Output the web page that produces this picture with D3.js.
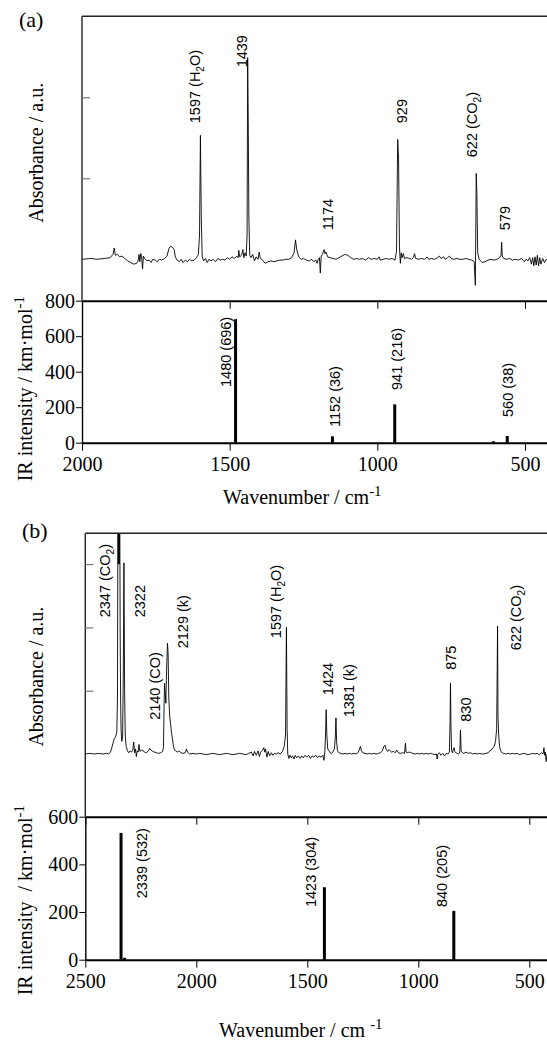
<!DOCTYPE html>
<html>
<head>
<meta charset="utf-8">
<style>
  body { margin: 0; padding: 0; background: #fff; }
  svg { display: block; background: #fff; }
</style>
<script src="https://cdnjs.cloudflare.com/ajax/libs/d3/7.8.5/d3.min.js"></script>
</head>
<body>
<svg width="547" height="1042"></svg>
<script>
// ---- panel (a) data ----
// measured spectrum: [wavenumber, absorbance (a.u.)]
const specA = [
  [2000,0.00],[1970,0.01],[1950,0.00],[1925,0.01],[1905,0.02],[1895,0.06],[1891,0.14],[1887,0.05],
  [1880,0.06],[1872,0.03],[1865,0.04],[1855,0.01],[1845,-0.02],[1835,-0.04],[1825,-0.06],[1815,-0.05],
  [1810,-0.02],[1807,0.06],[1804,-0.03],[1801,0.07],[1798,0.03],[1795,-0.12],[1792,0.04],[1788,0.01],
  [1780,-0.02],[1772,-0.01],[1766,-0.04],[1760,0.00],[1752,-0.01],[1745,-0.03],[1738,0.00],[1730,-0.01],
  [1720,0.01],[1712,0.04],[1706,0.13],[1700,0.16],[1694,0.15],[1688,0.12],[1684,0.03],[1678,-0.01],
  [1670,-0.03],[1664,0.00],[1658,-0.04],[1650,-0.01],[1643,-0.03],[1636,0.00],[1628,-0.02],[1620,-0.01],
  [1612,0.02],[1606,0.06],[1602,0.30],[1599,1.53],[1596,0.50],[1593,0.03],[1588,-0.02],[1582,0.01],
  [1576,-0.04],[1570,0.00],[1563,-0.02],[1556,0.00],[1548,-0.03],[1540,0.01],[1532,-0.01],[1524,0.00],
  [1516,-0.01],[1508,0.02],[1500,0.00],[1492,0.03],[1484,0.01],[1476,0.04],[1471,0.02],[1469,0.11],
  [1466,0.03],[1460,0.05],[1455,0.12],[1452,0.02],[1448,0.08],[1444,0.04],[1441,0.30],[1439,2.49],
  [1437,1.70],[1435,0.52],[1432,0.05],[1428,0.02],[1422,0.06],[1416,-0.02],[1410,0.03],[1404,0.00],
  [1400,0.09],[1396,0.01],[1388,-0.01],[1380,-0.05],[1370,-0.03],[1360,-0.02],[1350,-0.03],[1340,-0.02],
  [1330,-0.01],[1320,-0.01],[1310,0.00],[1300,0.00],[1290,0.02],[1282,0.08],[1277,0.24],[1273,0.12],
  [1266,0.03],[1258,0.00],[1250,0.01],[1240,-0.01],[1230,-0.02],[1222,0.00],[1215,-0.03],[1208,-0.01],
  [1204,-0.05],[1200,0.00],[1196,0.02],[1193,-0.17],[1190,0.04],[1186,0.06],[1180,0.12],[1177,0.07],
  [1174,0.09],[1168,0.03],[1160,0.02],[1150,0.01],[1140,0.00],[1130,0.02],[1120,0.04],[1110,0.06],
  [1100,0.05],[1090,0.02],[1080,0.00],[1070,0.01],[1060,0.00],[1050,0.01],[1040,-0.01],[1030,0.02],
  [1020,0.00],[1010,0.01],[1000,0.00],[994,0.03],[990,-0.01],[980,0.00],[970,0.01],[960,0.00],
  [950,0.01],[940,-0.01],[935,0.10],[931,1.48],[928,1.25],[925,0.15],[922,-0.05],[919,0.08],
  [916,0.02],[912,0.07],[908,0.01],[900,0.02],[892,0.01],[884,0.00],[878,0.02],[874,0.07],
  [870,0.01],[860,0.00],[850,0.01],[840,0.00],[832,0.03],[826,0.00],[816,0.01],[806,0.00],
  [796,0.02],[790,0.04],[784,0.01],[776,0.03],[770,0.00],[762,0.02],[756,0.04],[750,0.01],
  [740,0.00],[730,0.01],[720,0.00],[710,0.00],[700,0.01],[690,0.00],[680,-0.01],[672,-0.03],
  [668,-0.32],[665,1.06],[663,0.83],[660,0.08],[655,0.00],[645,-0.04],[635,-0.03],[625,-0.01],
  [615,0.00],[605,-0.01],[595,0.00],[586,0.02],[581,0.05],[579,0.21],[577,0.04],[572,0.01],
  [562,0.00],[552,0.01],[542,-0.01],[532,0.00],[522,-0.01],[512,0.01],[502,-0.03],[496,0.00],
  [490,-0.02],[484,0.02],[478,-0.06],[474,0.02],[470,-0.08],[466,0.03],[462,-0.07],[458,0.05],
  [454,-0.08],[450,0.02],[446,-0.06],[440,0.01],[434,-0.04],[428,0.00],[422,-0.02]
];
// calculated IR bands: [wavenumber, intensity km/mol]
const sticksA = [[1480,696],[1152,36],[941,216],[607,8],[560,38]];
// peak labels: [text, wavenumber, level]  ("_" marks a subscript digit)
const peakLabelsA = [
  ['1597 (H_2O)',1617,1.68],['1439',1458,2.37],['1174',1167,0.36],
  ['929',916,1.68],['622 (CO_2)',679,1.26],['579',568,0.36]
];
const stickLabelsA = [
  ['1480 (696)',1514,314],['1152 (36)',1143,88],['941 (216)',933,297],['560 (38)',557,145]
];
const xTicksA = [2000,1500,1000,500];
const irTicksA = [0,200,400,600,800];
const absTicksA = [1,2];

// ---- panel (b) data ----
const specB = [
  [2500,0.00],[2480,0.01],[2460,0.00],[2440,0.01],[2420,0.00],[2405,0.01],[2395,0.00],[2388,0.02],
  [2382,0.08],[2376,0.16],[2370,0.24],[2364,0.27],[2358,0.35],[2355,0.90],[2353,4.20],[2351,3.00],
  [2349,4.20],[2347,3.00],[2345,4.20],[2343,2.00],[2341,0.90],[2339,0.40],[2336,0.20],[2332,0.25],
  [2329,1.20],[2326,3.02],[2323,1.00],[2320,0.30],[2316,0.12],[2310,0.05],[2304,0.02],[2298,0.05],
  [2292,0.03],[2286,0.06],[2282,0.19],[2278,0.02],[2274,0.08],[2270,-0.04],[2266,0.05],[2262,0.03],
  [2258,0.15],[2254,0.04],[2248,0.06],[2240,0.05],[2232,0.03],[2224,0.02],[2216,0.05],[2210,0.09],
  [2204,0.06],[2196,0.04],[2188,0.03],[2180,0.02],[2170,0.01],[2160,0.02],[2152,0.04],[2148,0.10],
  [2145,0.80],[2143,1.12],[2140,0.95],[2137,0.80],[2134,1.30],[2130,1.75],[2127,1.60],[2124,0.90],
  [2120,0.60],[2116,0.48],[2112,0.35],[2108,0.25],[2104,0.15],[2100,0.08],[2094,0.05],[2086,0.03],
  [2078,0.05],[2070,0.02],[2060,0.01],[2050,0.02],[2044,0.08],[2040,0.03],[2030,0.00],[2015,0.01],
  [2000,0.00],[1985,0.01],[1970,0.00],[1955,-0.01],[1940,0.00],[1925,0.01],[1910,0.00],[1895,-0.01],
  [1880,0.00],[1865,0.01],[1850,0.00],[1835,-0.01],[1820,0.00],[1805,0.01],[1790,0.00],[1776,-0.01],
  [1764,0.01],[1752,0.03],[1744,-0.03],[1738,0.04],[1730,-0.02],[1722,0.05],[1716,-0.04],[1710,0.03],
  [1702,0.06],[1696,0.10],[1692,0.03],[1688,0.08],[1682,-0.05],[1676,0.04],[1670,-0.03],[1662,0.02],
  [1655,-0.02],[1648,0.01],[1640,0.00],[1632,0.02],[1622,0.00],[1612,0.04],[1604,0.12],[1598,0.30],
  [1594,2.00],[1591,0.40],[1588,0.00],[1583,-0.07],[1578,-0.02],[1572,-0.06],[1566,-0.03],[1560,-0.08],
  [1554,-0.02],[1548,-0.06],[1540,-0.03],[1532,-0.07],[1525,-0.03],[1518,-0.06],[1510,-0.02],[1502,-0.05],
  [1494,-0.02],[1486,-0.07],[1478,-0.03],[1470,-0.05],[1462,-0.02],[1454,-0.06],[1446,-0.03],[1438,-0.05],
  [1430,-0.02],[1425,-0.10],[1421,0.05],[1418,0.30],[1415,0.70],[1412,0.30],[1408,0.08],[1402,0.05],
  [1398,0.02],[1392,0.01],[1385,0.03],[1378,0.08],[1374,0.25],[1371,0.57],[1368,0.20],[1364,0.05],
  [1358,0.02],[1350,0.01],[1340,0.00],[1330,0.01],[1320,0.00],[1310,0.01],[1300,0.00],[1290,0.01],
  [1280,0.00],[1272,0.02],[1266,0.06],[1261,0.12],[1256,0.05],[1250,0.02],[1240,0.01],[1230,0.00],
  [1220,0.01],[1210,0.00],[1200,0.01],[1190,0.00],[1180,0.01],[1170,0.02],[1162,0.05],[1155,0.12],
  [1150,0.14],[1145,0.07],[1138,0.04],[1132,0.07],[1127,0.05],[1120,0.03],[1112,0.04],[1104,0.02],
  [1097,0.06],[1090,0.02],[1080,0.01],[1070,0.02],[1062,0.01],[1058,0.17],[1055,0.03],[1050,0.02],
  [1040,0.03],[1033,0.02],[1025,0.01],[1015,0.00],[1005,0.01],[995,0.00],[985,0.01],[975,0.00],
  [965,0.01],[955,0.00],[945,0.01],[935,0.00],[925,-0.01],[918,0.00],[915,-0.08],[912,0.00],
  [905,0.02],[898,-0.02],[890,0.01],[882,-0.03],[874,0.01],[866,0.00],[860,0.03],[857,0.50],
  [855,1.12],[853,0.48],[850,0.05],[846,0.02],[843,0.06],[839,0.10],[836,0.04],[830,0.02],
  [824,0.01],[818,0.00],[813,0.03],[810,0.38],[807,0.05],[802,0.02],[795,0.01],[785,0.03],
  [775,0.01],[765,0.02],[755,0.00],[745,0.01],[735,0.00],[725,0.01],[715,0.00],[705,0.00],
  [695,0.01],[685,0.02],[678,0.05],[671,0.06],[664,0.10],[658,0.12],[652,0.20],[647,0.40],
  [645,1.17],[643,2.02],[641,0.60],[638,0.30],[634,0.12],[628,0.04],[622,0.02],[615,0.01],
  [605,0.00],[595,0.01],[585,0.00],[575,0.01],[565,0.00],[555,0.01],[545,-0.01],[535,0.00],
  [525,0.01],[515,0.00],[505,-0.01],[495,0.00],[485,0.01],[475,0.00],[465,0.01],[455,-0.01],
  [445,0.02],[438,0.00],[434,0.10],[431,-0.02],[428,0.03],[424,-0.12],[420,0.00]
];
const sticksB = [[2339,532],[2323,8],[1423,304],[840,205]];
const peakLabelsB = [
  ['2347 (CO_2)',2414,2.16],['2322',2254,2.16],['2140 (CO)',2186,0.54],['2129 (k)',2060,1.67],
  ['1597 (H_2O)',1641,1.83],['1424',1407,0.93],['1381 (k)',1312,0.58],
  ['875',853,1.33],['830',785,0.51],['622 (CO_2)',560,1.64]
];
const stickLabelsB = [['2339 (532)',2245,258],['1423 (304)',1484,221],['840 (205)',895,221]];
const xTicksB = [2500,2000,1500,1000,500];
const irTicksB = [0,200,400,600];
const absTicksB = [1,2,3];

const SERIF = '"Liberation Serif", "Times New Roman", Times, serif';
const SANS = '"Liberation Sans", Arial, Helvetica, sans-serif';
const svg = d3.select('svg');
const W = 547;

function rotLabel(g, txt, px, py) {
  const t = g.append('text').style('font-family', SANS)
    .attr('transform', `translate(${px},${py}) rotate(-90)`)
    .attr('dy', '0.36em').attr('font-size', 14.5).attr('fill', '#000');
  const parts = txt.split(/_(\d)/);
  parts.forEach((s, i) => {
    if (!s) return;
    if (i % 2 === 1) {
      t.append('tspan').attr('font-size', 10).attr('dy', 4).text(s);
    } else {
      const ts = t.append('tspan').text(s);
      if (i > 0) ts.attr('dy', -4);
    }
  });
}

function drawPanel(p) {
  const x = d3.scaleLinear().domain(p.xDomain).range([p.left, p.right]);
  const yAbs = d3.scaleLinear().domain([0, 1]).range([p.absBase, p.absBase - p.absUnit]);
  const yIr = d3.scaleLinear().domain([0, p.irMax]).range([p.bottom, p.mid]);
  const g = svg.append('g');

  g.append('clipPath').attr('id', p.id).append('rect')
    .attr('x', p.left).attr('y', p.top).attr('width', W - p.left).attr('height', p.mid - p.top);

  // absorbance spectrum
  g.append('path').datum(p.spec)
    .attr('clip-path', `url(#${p.id})`)
    .attr('fill', 'none').attr('stroke', '#000').attr('stroke-width', 0.9)
    .attr('d', d3.line().x(d => x(d[0])).y(d => yAbs(d[1])));

  // frame of the absorbance box
  g.append('line').attr('x1', p.left).attr('x2', W).attr('y1', p.top).attr('y2', p.top)
    .attr('stroke', '#222').attr('stroke-width', 1.4);
  g.append('line').attr('x1', p.left).attr('x2', p.left).attr('y1', p.top).attr('y2', p.mid)
    .attr('stroke', '#222').attr('stroke-width', 1.4);
  g.append('g').attr('transform', `translate(${p.left},0)`)
    .call(d3.axisRight(yAbs).tickValues(p.absTicks).tickSize(8).tickFormat(''))
    .call(a => a.select('.domain').remove())
    .selectAll('line').attr('stroke', '#777').attr('stroke-width', 1.2);

  // computed band sticks
  g.selectAll('.stick').data(p.sticks).join('line')
    .attr('x1', d => x(d[0])).attr('x2', d => x(d[0]))
    .attr('y1', yIr(0)).attr('y2', d => yIr(d[1]))
    .attr('stroke', '#000').attr('stroke-width', 3);

  // x axis (bottom) and inner ticks on the dividing line
  const xb = g.append('g').attr('transform', `translate(0,${p.bottom})`)
    .call(d3.axisBottom(x).tickValues(p.xTicks).tickFormat(d3.format('d'))
      .tickSize(8).tickSizeOuter(0).tickPadding(6));
  xb.select('.domain').attr('stroke-width', 2);

  const xt = g.append('g').attr('transform', `translate(0,${p.mid})`)
    .call(d3.axisBottom(x).tickValues(p.xTicks).tickSize(8).tickSizeOuter(0).tickFormat(''));
  xt.select('.domain').attr('stroke-width', 2);

  const yl = g.append('g').attr('transform', `translate(${p.left},0)`)
    .call(d3.axisLeft(yIr).tickValues(p.irTicks).tickFormat(d3.format('d'))
      .tickSize(6).tickSizeOuter(0).tickPadding(1));
  yl.select('.domain').attr('stroke-width', 1.4);

  [xb, yl].forEach(a => a.attr('font-family', null).attr('font-size', null)
    .selectAll('text').style('font-family', SERIF).style('font-size', '20px').attr('fill', '#000'));

  // annotations
  p.peakLabels.forEach(d => rotLabel(g, d[0], x(d[1]), yAbs(d[2])));
  p.stickLabels.forEach(d => rotLabel(g, d[0], x(d[1]), yIr(d[2])));

  // titles
  g.append('text').style('font-family', SERIF).attr('font-size', 22)
    .attr('x', p.letterX).attr('y', p.letterY).text(p.letter);

  g.append('text').style('font-family', SERIF).attr('font-size', 20)
    .attr('text-anchor', 'middle')
    .attr('transform', `translate(43,${(p.absBase + p.top) / 2 + p.absTitleShift}) rotate(-90)`)
    .text('Absorbance / a.u.');

  const ir = g.append('text').style('font-family', SERIF).attr('font-size', 20)
    .attr('text-anchor', 'middle')
    .attr('transform', `translate(32,${(p.mid + p.bottom) / 2 + p.irTitleShift}) rotate(-90)`);
  ir.append('tspan').text(p.irTitle);
  ir.append('tspan').attr('font-size', 15).attr('dy', -8).text('-1');

  const wt = g.append('text').style('font-family', SERIF).attr('font-size', 20)
    .attr('x', p.wnX).attr('y', p.wnY);
  wt.append('tspan').text(p.wnTitle);
  wt.append('tspan').attr('font-size', 15).attr('dy', -8).text('-1');
}

drawPanel({
  id: 'clipA', letter: '(a)', letterX: 19, letterY: 27,
  xDomain: [2000, 400], left: 82, right: 554.5,
  top: 16.3, mid: 300.7, bottom: 442.7, absBase: 259.3, absUnit: 81, irMax: 800,
  spec: specA, sticks: sticksA, peakLabels: peakLabelsA, stickLabels: stickLabelsA,
  xTicks: xTicksA, irTicks: irTicksA, absTicks: absTicksA,
  absTitleShift: 15, irTitleShift: 17,
  irTitle: 'IR intensity / km\u00b7mol', wnTitle: 'Wavenumber / cm', wnX: 223, wnY: 504
});

drawPanel({
  id: 'clipB', letter: '(b)', letterX: 22, letterY: 538,
  xDomain: [2500, 400], left: 85.3, right: 551.5,
  top: 533.3, mid: 816.7, bottom: 959.7, absBase: 754, absUnit: 63.3, irMax: 600,
  spec: specB, sticks: sticksB, peakLabels: peakLabelsB, stickLabels: stickLabelsB,
  xTicks: xTicksB, irTicks: irTicksB, absTicks: absTicksB,
  absTitleShift: 33, irTitleShift: 12,
  irTitle: 'IR intensity \u00a0/ km\u00b7mol', wnTitle: 'Wavenumber / cm\u00a0', wnX: 219, wnY: 1037
});
</script>
</body>
</html>
